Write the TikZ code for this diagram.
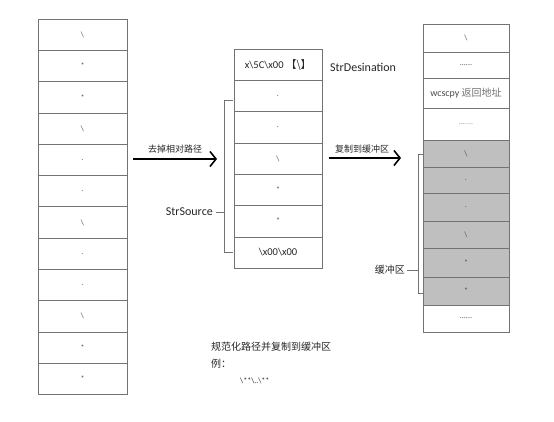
\documentclass[tikz,border=0pt]{standalone}
\usepackage{fontspec}
\setmainfont{Carlito}
\newfontfamily\cjk{Noto Sans CJK SC}
\usetikzlibrary{arrows.meta,positioning}
\newcommand\sixdots{......}
\newcommand\sevendots{\textcolor{black!40}{.......}}
\newcommand\retaddr{{\fontsize{10}{11}\selectfont wcscpy {\cjk\textcolor{black!55}{返回地址}}}}

\begin{document}
\begin{tikzpicture}[x=1pt,y=-1pt]
  % Styles for cells, labels and arrows
  \tikzset{cell/.style={draw=black!55, line width=0.6pt, minimum width=89pt, minimum height=31.3pt, inner sep=0pt, font=\fontsize{8}{9}\selectfont, text=black!70}}
  \tikzset{lbl/.style={font=\fontsize{12}{14}\selectfont, text=black!85, inner sep=0pt}}
  \tikzset{bigarrow/.style={line width=1.6pt, -{Straight Barb[length=6pt,width=15pt,line width=1.6pt]}}}
  \tikzset{bracket/.style={draw=black!55, line width=0.6pt}}
  \useasboundingbox (0,0) rectangle (554,422);

  % left column
  \foreach \t [count=\i] in {\textbackslash,*,*,\textbackslash,.,.,\textbackslash,.,.,\textbackslash,*,*}
    \node[cell] (L\i) at (82.5,{19+31.3*(\i-0.5)}) {\t};

  % middle column
  \foreach \t [count=\i] in {{},.,.,\textbackslash,*,*,{}}
    \node[cell, minimum width=88pt] (M\i) at (278,{49+31.3*(\i-0.5)}) {\t};
  \node[cell, draw=none, font=\fontsize{10.5}{12}\selectfont, text=black!85] at (M1) {x\textbackslash5C\textbackslash x00 {\cjk【\textbackslash】}};
  \node[cell, draw=none, font=\fontsize{10.5}{12}\selectfont, text=black!85] at (M7) {\textbackslash x00\textbackslash x00};

  % right column
  \foreach \ya/\yb/\t/\c [count=\i] in {24/52/\textbackslash/white, 52/78/\sixdots/white,
      78/108/\retaddr/white, 108/140/\sevendots/white,
      140/167/\textbackslash/black!25, 167/193/./black!25, 193/221/./black!25,
      221/248/\textbackslash/black!25, 248/277/*/black!25, 277/305/*/black!25, 305/332/\sixdots/white}
    \node[cell, fill=\c, minimum width=86pt, minimum height={(\yb-\ya)*1pt}] (R\i) at (466,{(\ya+\yb)/2}) {\t};

  % labels of the columns
  \node[lbl, anchor=west] (dst) at (330,67) {StrDesination};
  \node[lbl, anchor=east] (src) at (213,212) {StrSource};
  \node[lbl, anchor=east, font=\cjk\fontsize{10}{12}\selectfont] (buf) at (405,270) {缓冲区};

  % brackets
  \draw[bracket] (233,100) -- (224,100) -- (224,252) -- (233,252);
  \draw[bracket] ([xshift=3pt]src.east) -- (224,212);
  \draw[bracket] (423,154) -- (418,154) -- (418,293) -- (423,293);
  \draw[bracket] ([xshift=2pt]buf.east) -- (418,270);

  % arrows
  \coordinate (a1) at (133,159);
  \coordinate (b1) at (217,159);
  \coordinate (a2) at (329,158);
  \coordinate (b2) at (401,158);
  \draw[bigarrow] (a1) -- node[lbl, above=5pt, font=\cjk\fontsize{9}{10}\selectfont] {去掉相对路径} (b1);
  \draw[bigarrow] (a2) -- node[lbl, above=4pt, xshift=-3pt, font=\cjk\fontsize{9}{10}\selectfont] {复制到缓冲区} (b2);

  % note below
  \node[lbl, anchor=west, font=\cjk\fontsize{10}{12}\selectfont] (note) at (211,347) {规范化路径并复制到缓冲区};
  \node[lbl, anchor=west, font=\cjk\fontsize{10}{12}\selectfont] (eg) at (211,364) {例：};
  \node[lbl, anchor=west, font=\fontsize{8}{9}\selectfont] (ex) at (240,381) {\textbackslash**\textbackslash..\textbackslash**};
\end{tikzpicture}
\end{document}
